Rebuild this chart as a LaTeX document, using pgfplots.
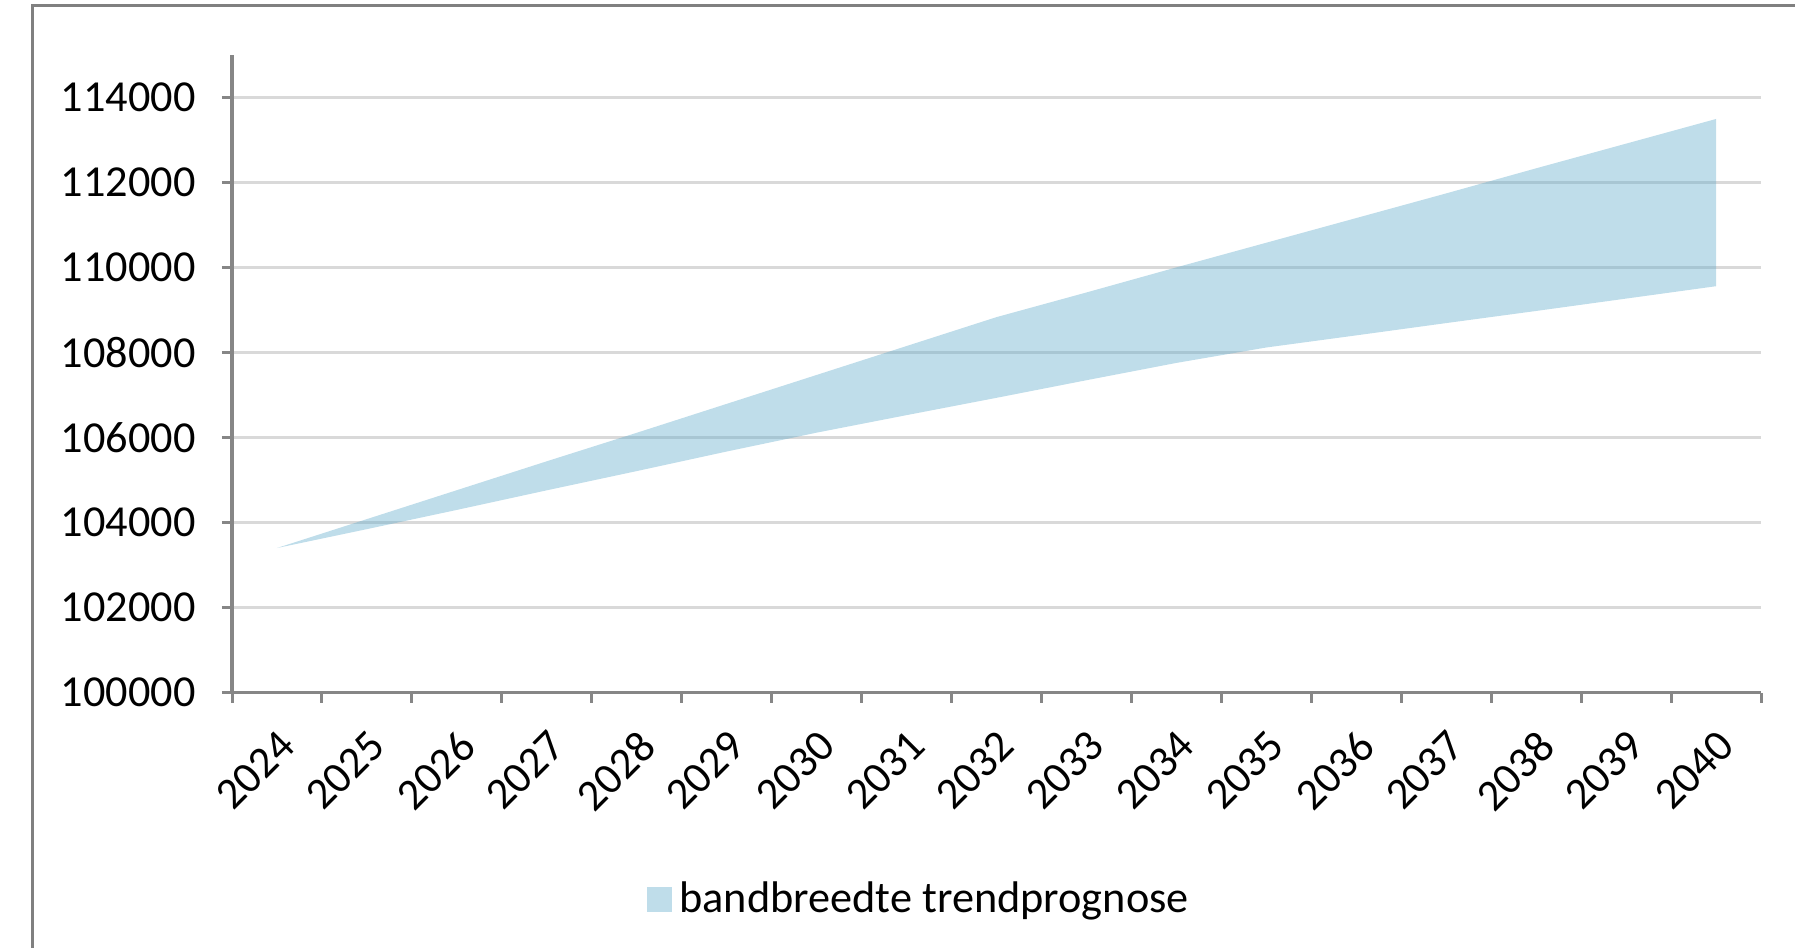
\documentclass[border=0pt]{standalone}
\usepackage{pgfplots}
\pgfplotsset{compat=1.18}
\usepackage{fontspec}
\setmainfont{Carlito}
\definecolor{band}{RGB}{95,170,202}
\definecolor{axgray}{RGB}{134,134,134}
\definecolor{gridgray}{RGB}{217,217,217}
\definecolor{framegray}{RGB}{128,128,128}
\begin{document}
\begin{tikzpicture}
\draw[framegray, line width=0.3mm] (0.32cm,0cm) -- (0.32cm,9.42cm) -- (17.95cm,9.42cm);
\begin{axis}[
  at={(2.32cm,2.554cm)}, anchor=south west,
  scale only axis, width=15.29cm, height=6.378cm,
  xmin=-0.5, xmax=16.5, ymin=100000, ymax=115000,
  axis x line*=bottom, axis y line*=left,
  axis line style={axgray, line width=0.34mm},
  xtick={-0.5,0.5,...,16.5},
  xticklabels={2024,2025,2026,2027,2028,2029,2030,2031,2032,2033,2034,2035,2036,2037,2038,2039,2040,{}},
  ytick={100000,102000,104000,106000,108000,110000,112000,114000},
  yticklabels={100000,102000,104000,106000,108000,110000,112000,114000},
  scaled y ticks=false,
  tick align=outside, major tick length=1mm,
  tick style={axgray, line width=0.3mm},
  ymajorgrids, grid style={gridgray, line width=0.25mm},
  tick label style={font=\fontsize{12.6}{15}\selectfont, text=black},
  xticklabel style={xshift=0.45cm, yshift=-0.8mm, rotate=45, anchor=north east},
  yticklabel style={anchor=east, xshift=-1.4mm},
  legend style={at={(0.451,-0.3245)}, anchor=center, draw=none, fill=none,
    font=\fontsize{12.6}{15}\selectfont},
  legend image code/.code={\fill[band, fill opacity=0.4] (0cm,-0.125cm) rectangle (0.25cm,0.125cm);},
  clip=false,
]
% upper edge 2024..2040, then lower edge 2040..2024
\addplot[fill=band, fill opacity=0.4, draw=none] coordinates {
(0,103400) (1,104080) (2,104760) (3,105440) (4,106110) (5,106790) (6,107470) (7,108150) (8,108830)
(9,109410) (10,110000) (11,110580) (12,111160) (13,111740) (14,112330) (15,112910) (16,113490)
(16,109557) (15,109266) (14,108975) (13,108690) (12,108401) (11,108116) (10,107753) (9,107346)
(8,106932) (7,106525) (6,106113) (5,105669) (4,105209) (3,104757) (2,104296) (1,103844) (0,103400)
} -- cycle;
\addlegendentry{bandbreedte trendprognose}
\end{axis}
\pgfresetboundingbox
\useasboundingbox (0cm,0cm) rectangle (17.95cm,9.48cm);
\end{tikzpicture}
\end{document}
